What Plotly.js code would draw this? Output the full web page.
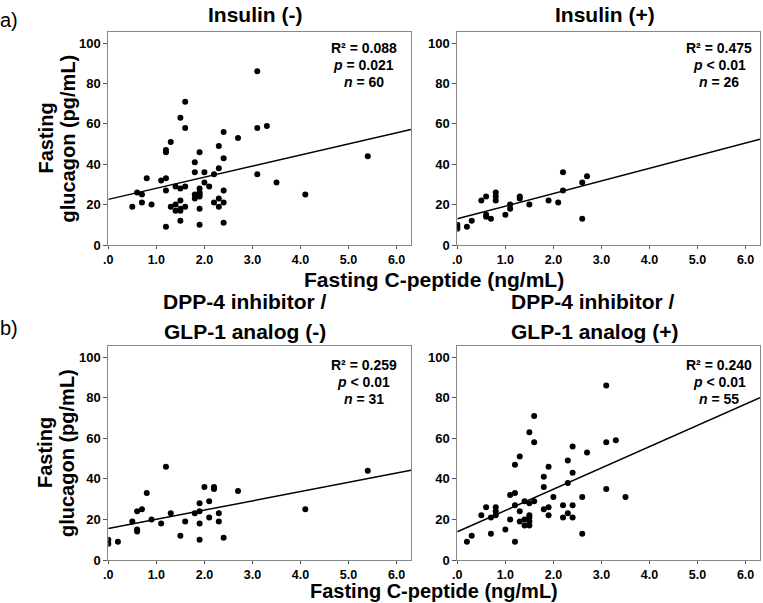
<!DOCTYPE html>
<html>
<head>
<meta charset="utf-8">
<script src="https://cdn.plot.ly/plotly-3.0.1.min.js"></script>
<style>html,body{margin:0;padding:0;background:#fff;}#chart{width:763px;height:603px;}</style>
</head>
<body>
<div id="chart"></div>
<script>
// ---- Data ----
// a) Insulin (-)
const insNegX = [0.5,0.6,0.7,0.7,0.8,0.9,1.1,1.2,1.2,1.2,1.2,1.2,1.3,1.3,1.4,1.4,1.4,1.5,1.5,1.5,1.5,1.5,1.5,1.6,1.6,1.6,1.6,1.8,1.8,1.8,1.8,1.9,1.9,1.9,1.9,1.9,1.9,1.9,2.0,2.0,2.1,2.2,2.2,2.3,2.3,2.3,2.3,2.4,2.4,2.4,2.4,2.4,2.7,3.1,3.1,3.1,3.3,3.5,4.1,5.4];
const insNegY = [19,26,25,21,33,20,32,33,27,47,46,9,51,19,29,20,17,63,28,22,18,17,12,71,58,29,19,41,36,25,23,46,28,26,25,24,18,10,36,31,29,35,21,49,38,23,19,56,43,27,21,11,53,86,58,35,59,31,25,44];
const insNegFitX = [0, 6.3];
const insNegFitY = [22.6, 57.2];

// a) Insulin (+)
const insPosX = [0.0,0.0,0.0,0.2,0.3,0.5,0.6,0.6,0.6,0.7,0.8,0.8,0.8,1.0,1.1,1.1,1.3,1.3,1.5,1.9,2.1,2.2,2.2,2.6,2.6,2.7];
const insPosY = [10,8,9,9,12,22,24,15,14,13,26,24,22,15,20,18,24,23,20,22,21,36,27,31,13,34];
const insPosFitX = [0, 6.3];
const insPosFitY = [13.0, 52.4];

// b) DPP-4 inhibitor / GLP-1 analog (-)
const dppNegX = [0.0,0.0,0.2,0.5,0.6,0.6,0.6,0.7,0.8,0.9,1.1,1.2,1.3,1.5,1.6,1.8,1.9,1.9,1.9,1.9,2.0,2.1,2.1,2.2,2.2,2.3,2.3,2.4,2.7,4.1,5.4];
const dppNegY = [10,8,9,19,24,15,14,25,33,20,18,46,23,12,19,23,28,24,18,10,36,29,21,36,35,23,19,11,34,25,44];
const dppNegFitX = [0, 6.3];
const dppNegFitY = [15.5, 44.2];

// b) DPP-4 inhibitor / GLP-1 analog (+)
const dppPosX = [0.2,0.3,0.5,0.6,0.7,0.7,0.8,0.8,0.8,1.0,1.1,1.1,1.2,1.2,1.2,1.2,1.3,1.3,1.3,1.4,1.4,1.4,1.5,1.5,1.5,1.5,1.5,1.5,1.6,1.6,1.6,1.8,1.8,1.8,1.9,1.9,1.9,2.0,2.2,2.2,2.3,2.3,2.3,2.4,2.4,2.4,2.4,2.6,2.6,2.7,3.1,3.1,3.1,3.3,3.5];
const dppPosY = [9,12,22,26,21,13,26,24,22,15,32,20,47,33,27,9,51,24,19,29,20,17,63,28,22,21,19,17,71,58,29,41,36,25,46,26,22,31,27,21,49,38,23,56,43,27,21,31,13,53,86,58,35,59,31];
const dppPosFitX = [0, 6.3];
const dppPosFitY = [13.9, 80.0];

const xTickVals = [0,1,2,3,4,5,6];
const xTickText = ['.0','1.0','2.0','3.0','4.0','5.0','6.0'];
const yTickVals = [0,20,40,60,80,100];
const yTickText = ['0','20','40','60','80','100'];

const panelTitles = ['Insulin (-)', 'Insulin (+)'];
const panelTitlesB1 = ['DPP-4 inhibitor /', 'DPP-4 inhibitor /'];
const panelTitlesB2 = ['GLP-1 analog (-)', 'GLP-1 analog (+)'];
const statsR2 = ['R² = 0.088', 'R² = 0.475', 'R² = 0.259', 'R² = 0.240'];
const statsP = ['<i>p</i> = 0.021', '<i>p</i> &lt; 0.01', '<i>p</i> &lt; 0.01', '<i>p</i> &lt; 0.01'];
const statsN = ['<i>n</i> = 60', '<i>n</i> = 26', '<i>n</i> = 31', '<i>n</i> = 55'];

// ---- Layout helpers ----
const W = 763, H = 603;
const FONT = 'Liberation Sans, Arial, sans-serif';
const px = x => x / W;
const py = y => (H - y) / H;

function scat(x, y, xa, ya) {
  return {x: x, y: y, xaxis: xa, yaxis: ya, type: 'scatter', mode: 'markers',
    marker: {color: '#000', size: 6}, hoverinfo: 'skip', showlegend: false};
}
function fit(x, y, xa, ya) {
  return {x: x, y: y, xaxis: xa, yaxis: ya, type: 'scatter', mode: 'lines',
    line: {color: '#000', width: 1.5}, hoverinfo: 'skip', showlegend: false};
}

const data = [
  scat(insNegX, insNegY, 'x', 'y'), fit(insNegFitX, insNegFitY, 'x', 'y'),
  scat(insPosX, insPosY, 'x2', 'y2'), fit(insPosFitX, insPosFitY, 'x2', 'y2'),
  scat(dppNegX, dppNegY, 'x3', 'y3'), fit(dppNegFitX, dppNegFitY, 'x3', 'y3'),
  scat(dppPosX, dppPosY, 'x4', 'y4'), fit(dppPosFitX, dppPosFitY, 'x4', 'y4')
];

function xax(dom, anchor) {
  return {domain: dom, anchor: anchor, range: [0, 6.3], tickvals: xTickVals, ticktext: xTickText,
    ticks: 'outside', ticklen: 3, tickwidth: 1, tickcolor: '#555', showline: true, linecolor: '#888',
    linewidth: 1, mirror: true, showgrid: false, zeroline: false,
    tickfont: {family: FONT, size: 12.5, color: '#000', weight: 'bold'}, fixedrange: true};
}
function yax(dom, anchor) {
  return {domain: dom, anchor: anchor, range: [0, 105.5], tickvals: yTickVals, ticktext: yTickText,
    ticks: 'outside', ticklen: 4, tickwidth: 1, tickcolor: '#555', showline: true, linecolor: '#888',
    linewidth: 1, mirror: true, showgrid: false, zeroline: false,
    tickfont: {family: FONT, size: 13, color: '#000', weight: 'bold'}, fixedrange: true};
}

const xL = [px(108.3), px(411)], xR = [px(457.3), px(760)];
const yT = [py(245), py(32)], yB = [py(560), py(346)];

function ann(text, x, y, size, opts) {
  return Object.assign({text: text, xref: 'paper', yref: 'paper', x: px(x), y: py(y),
    xanchor: 'center', yanchor: 'middle', showarrow: false,
    font: {family: FONT, size: size, color: '#000', weight: 'bold'}}, opts || {});
}

const annotations = [];
// panel titles
annotations.push(ann(panelTitles[0], 255, 14, 21));
annotations.push(ann(panelTitles[1], 605, 14, 21));
annotations.push(ann(panelTitlesB1[0], 245, 302, 21));
annotations.push(ann(panelTitlesB2[0], 245, 331, 21));
annotations.push(ann(panelTitlesB1[1], 593, 302, 21));
annotations.push(ann(panelTitlesB2[1], 594, 331, 21));
// row labels
annotations.push(ann('a)', 9, 20, 20, {font: {family: FONT, size: 20, color: '#000'}}));
annotations.push(ann('b)', 9, 328, 20, {font: {family: FONT, size: 20, color: '#000'}}));
// x titles
annotations.push(ann('Fasting C-peptide (ng/mL)', 433.5, 279, 21));
annotations.push(ann('Fasting C-peptide (ng/mL)', 433.5, 591, 20));
// y titles
[138.5, 453].forEach(cy => {
  annotations.push(ann('Fasting', 45, cy, 20, {textangle: -90}));
  annotations.push(ann('glucagon (pg/mL)', 67, cy, 20, {textangle: -90}));
});
// stats
const statPos = [[363.5, 47.7], [719, 47.7], [363.5, 365], [719, 365]];
statPos.forEach((p, i) => {
  annotations.push(ann(statsR2[i], p[0], p[1], 14));
  annotations.push(ann(statsP[i], p[0], p[1] + 17, 14));
  annotations.push(ann(statsN[i], p[0], p[1] + 34, 14));
});

const layout = {
  width: W, height: H, margin: {l: 0, r: 0, t: 0, b: 0},
  paper_bgcolor: '#fff', plot_bgcolor: '#fff', showlegend: false,
  font: {family: FONT, color: '#000'},
  xaxis: xax(xL, 'y'), yaxis: yax(yT, 'x'),
  xaxis2: xax(xR, 'y2'), yaxis2: yax(yT, 'x2'),
  xaxis3: xax(xL, 'y3'), yaxis3: yax(yB, 'x3'),
  xaxis4: xax(xR, 'y4'), yaxis4: yax(yB, 'x4'),
  annotations: annotations
};

Plotly.newPlot('chart', data, layout, {staticPlot: true, displayModeBar: false});
</script>
</body>
</html>
